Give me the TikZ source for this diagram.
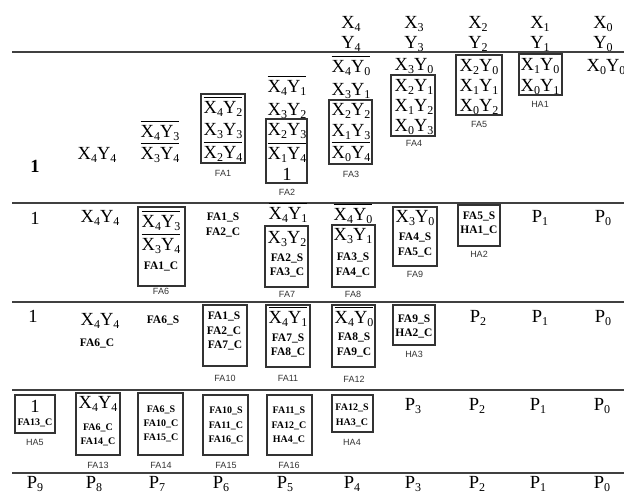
\documentclass[tikz,border=0pt]{standalone}
\usepackage{fontspec}
\setmainfont{Liberation Serif}
\setsansfont{Liberation Sans}
\usepackage{tikz}
\newcommand\idx[1]{\raisebox{-3.5pt}{\fontsize{12}{12}\selectfont #1}}
\newcommand\prd[2]{X\idx{#1}Y\idx{#2}}
\newcommand\ovl[1]{\vbox{\hrule height 0.8pt\kern 3.5pt\hbox{#1}}}
\newcommand\nprd[2]{\ovl{\prd{#1}{#2}}}
\tikzset{%
  term/.style={anchor=base,inner sep=0pt,font=\fontsize{18.5}{22}\selectfont},
  sig/.style={anchor=base,inner sep=0pt,font=\fontsize{11.5}{13}\selectfont\bfseries},
  sigsm/.style={sig,font=\fontsize{10}{12}\selectfont\bfseries},
  tag/.style={anchor=base,inner sep=0pt,text=black!80,
    font=\sffamily\fontsize{9}{10}\selectfont},
  unit/.style={draw=black!80,line width=1.3pt,inner sep=0pt},
  rowline/.style={line width=1.3pt,black!75}
}
\begin{document}
\begin{tikzpicture}[x=1pt,y=-1pt]
  \useasboundingbox (0,0) rectangle (624,496);

  % operand bits
  \node[term] (x4) at (351,28) {X\idx{4}}; \node[term] (y4) at (351,48) {Y\idx{4}};
  \node[term] (x3) at (414,28) {X\idx{3}}; \node[term] (y3) at (414,48) {Y\idx{3}};
  \node[term] (x2) at (478,28) {X\idx{2}}; \node[term] (y2) at (478,48) {Y\idx{2}};
  \node[term] (x1) at (540,28) {X\idx{1}}; \node[term] (y1) at (540,48) {Y\idx{1}};
  \node[term] (x0) at (603,28) {X\idx{0}}; \node[term] (y0) at (603,48) {Y\idx{0}};

  \draw[rowline] (12,52) -- (624,52);
  \draw[rowline] (12,203) -- (624,203);
  \draw[rowline] (12,302) -- (624,302);
  \draw[rowline] (12,390) -- (624,390);
  \draw[rowline] (12,473) -- (624,473);

  % stage 1: partial products
  \node[term, font=\fontsize{18.5}{22}\selectfont\bfseries] (a9) at (35,172) {1};
  \node[term] (a8) at (97,159) {\prd44};
  \node[term] (a7a) at (160,137) {\nprd43};
  \node[term] (a7b) at (160,159) {\nprd34};
  \node[unit, minimum width=44pt, minimum height=69pt] (fa1) at (223,128.5) {};
  \node[term] (a6a) at (223,113) {\nprd42};
  \node[term] (a6b) at (223,135) {\prd33};
  \node[term] (a6c) at (223,158) {\nprd24};
  \node[tag] (fa1t) at (223,176) {FA1};
  \node[term] (a5a) at (287,92) {\nprd41};
  \node[term] (a5b) at (287,115) {\prd32};
  \node[unit, minimum width=41pt, minimum height=64pt] (fa2) at (286.5,151) {};
  \node[term] (a5c) at (287,135) {\prd23};
  \node[term] (a5d) at (287,159) {\nprd14};
  \node[term] (a5e) at (287,180) {1};
  \node[tag] (fa2t) at (287,195) {FA2};
  \node[term] (a4a) at (351,72) {\nprd40};
  \node[term] (a4b) at (351,95) {\prd31};
  \node[unit, minimum width=43pt, minimum height=64pt] (fa3) at (350.5,132) {};
  \node[term] (a4c) at (351,115) {\prd22};
  \node[term] (a4d) at (351,136) {\prd13};
  \node[term] (a4e) at (351,158) {\nprd04};
  \node[tag] (fa3t) at (351,177) {FA3};
  \node[term] (a3a) at (414,70) {\prd30};
  \node[unit, minimum width=44pt, minimum height=61pt] (fa4) at (413,105.5) {};
  \node[term] (a3b) at (414,91) {\prd21};
  \node[term] (a3c) at (414,111) {\prd12};
  \node[term] (a3d) at (414,131) {\prd03};
  \node[tag] (fa4t) at (414,146) {FA4};
  \node[unit, minimum width=46pt, minimum height=60pt] (fa5) at (479,85) {};
  \node[term] (a2a) at (479,71) {\prd20};
  \node[term] (a2b) at (479,91) {\prd11};
  \node[term] (a2c) at (479,111) {\prd02};
  \node[tag] (fa5t) at (479,127) {FA5};
  \node[unit, minimum width=43pt, minimum height=41pt] (ha1) at (540.5,74.5) {};
  \node[term] (a1a) at (540,70) {\prd10};
  \node[term] (a1b) at (540,91) {\prd01};
  \node[tag] (ha1t) at (540,107) {HA1};
  \node[term] (a0) at (606,71) {\prd00};

  % stage 2
  \node[term] (b9) at (35,224) {1};
  \node[term] (b8) at (100,222) {\prd44};
  \node[unit, minimum width=47pt, minimum height=79pt] (fa6) at (161.5,246.5) {};
  \node[term] (b7a) at (161,227) {\nprd43};
  \node[term] (b7b) at (161,250) {\nprd34};
  \node[sig] (b7c) at (161,269) {FA1\_C};
  \node[tag] (fa6t) at (161,294) {FA6};
  \node[sig] (b6a) at (223,220) {FA1\_S};
  \node[sig] (b6b) at (223,235) {FA2\_C};
  \node[term] (b5a) at (288,219) {\nprd41};
  \node[unit, minimum width=43pt, minimum height=61pt] (fa7) at (286.5,256.5) {};
  \node[term] (b5b) at (287,243) {\prd32};
  \node[sig] (b5c) at (287,261) {FA2\_S};
  \node[sig] (b5d) at (287,275) {FA3\_C};
  \node[tag] (fa7t) at (287,297) {FA7};
  \node[term] (b4a) at (353,220) {\nprd40};
  \node[unit, minimum width=43pt, minimum height=62pt] (fa8) at (353.5,256) {};
  \node[term] (b4b) at (353,240) {\prd31};
  \node[sig] (b4c) at (353,260) {FA3\_S};
  \node[sig] (b4d) at (353,275) {FA4\_C};
  \node[tag] (fa8t) at (353,297) {FA8};
  \node[unit, minimum width=44pt, minimum height=59pt] (fa9) at (415,236.5) {};
  \node[term] (b3a) at (415,222) {\prd30};
  \node[sig] (b3b) at (415,240) {FA4\_S};
  \node[sig] (b3c) at (415,255) {FA5\_C};
  \node[tag] (fa9t) at (415,277) {FA9};
  \node[unit, minimum width=42pt, minimum height=41pt] (ha2) at (479,225.5) {};
  \node[sig] (b2a) at (479,219) {FA5\_S};
  \node[sig] (b2b) at (479,233) {HA1\_C};
  \node[tag] (ha2t) at (479,257) {HA2};
  \node[term] (b1) at (540,222) {P\idx{1}};
  \node[term] (b0) at (603,222) {P\idx{0}};

  % stage 3
  \node[term] (c9) at (33,322) {1};
  \node[term] (c8a) at (100,325) {\prd44};
  \node[sig] (c8b) at (97,346) {FA6\_C};
  \node[sig] (c7) at (163,323) {FA6\_S};
  \node[unit, minimum width=44pt, minimum height=61pt] (fa10) at (225,335.5) {};
  \node[sig] (c6a) at (224,319) {FA1\_S};
  \node[sig] (c6b) at (224,334) {FA2\_C};
  \node[sig] (c6c) at (225,348) {FA7\_C};
  \node[tag] (fa10t) at (225,381) {FA10};
  \node[unit, minimum width=44pt, minimum height=62pt] (fa11) at (288,336) {};
  \node[term] (c5a) at (288,323) {\nprd41};
  \node[sig] (c5b) at (288,341) {FA7\_S};
  \node[sig] (c5c) at (288,355) {FA8\_C};
  \node[tag] (fa11t) at (288,381) {FA11};
  \node[unit, minimum width=43pt, minimum height=62pt] (fa12) at (353.5,336) {};
  \node[term] (c4a) at (354,323) {\nprd40};
  \node[sig] (c4b) at (354,340) {FA8\_S};
  \node[sig] (c4c) at (354,355) {FA9\_C};
  \node[tag] (fa12t) at (354,382) {FA12};
  \node[unit, minimum width=42pt, minimum height=40pt] (ha3) at (414,325) {};
  \node[sig] (c3a) at (414,322) {FA9\_S};
  \node[sig] (c3b) at (414,336) {HA2\_C};
  \node[tag] (ha3t) at (414,357) {HA3};
  \node[term] (c2) at (478,322) {P\idx{2}};
  \node[term] (c1) at (540,322) {P\idx{1}};
  \node[term] (c0) at (603,322) {P\idx{0}};

  % stage 4
  \node[unit, minimum width=40pt, minimum height=38pt] (ha5) at (35,414) {};
  \node[term] (d9a) at (35,412) {1};
  \node[sigsm] (d9b) at (35,425) {FA13\_C};
  \node[tag] (ha5t) at (35,445) {HA5};
  \node[unit, minimum width=44pt, minimum height=62pt] (fa13) at (98,424) {};
  \node[term] (d8a) at (98,408) {\prd44};
  \node[sigsm] (d8b) at (98,430) {FA6\_C};
  \node[sigsm] (d8c) at (98,444) {FA14\_C};
  \node[tag] (fa13t) at (98,468) {FA13};
  \node[unit, minimum width=45pt, minimum height=62pt] (fa14) at (160.5,424) {};
  \node[sigsm] (d7a) at (161,412) {FA6\_S};
  \node[sigsm] (d7b) at (161,426) {FA10\_C};
  \node[sigsm] (d7c) at (161,440) {FA15\_C};
  \node[tag] (fa14t) at (161,468) {FA14};
  \node[unit, minimum width=45pt, minimum height=60pt] (fa15) at (225.5,425) {};
  \node[sigsm] (d6a) at (226,413) {FA10\_S};
  \node[sigsm] (d6b) at (226,428) {FA11\_C};
  \node[sigsm] (d6c) at (226,442) {FA16\_C};
  \node[tag] (fa15t) at (226,468) {FA15};
  \node[unit, minimum width=45pt, minimum height=60pt] (fa16) at (289.5,425) {};
  \node[sigsm] (d5a) at (289,413) {FA11\_S};
  \node[sigsm] (d5b) at (289,428) {FA12\_C};
  \node[sigsm] (d5c) at (289,442) {HA4\_C};
  \node[tag] (fa16t) at (289,468) {FA16};
  \node[unit, minimum width=41pt, minimum height=37pt] (ha4) at (352.5,413.5) {};
  \node[sigsm] (d4a) at (352,410) {FA12\_S};
  \node[sigsm] (d4b) at (352,425) {HA3\_C};
  \node[tag] (ha4t) at (352,445) {HA4};
  \node[term] (d3) at (413,410) {P\idx{3}};
  \node[term] (d2) at (477,410) {P\idx{2}};
  \node[term] (d1) at (538,410) {P\idx{1}};
  \node[term] (d0) at (602,410) {P\idx{0}};

  % product
  \node[term] (p9) at (35,488) {P\idx{9}};
  \node[term] (p8) at (94,488) {P\idx{8}};
  \node[term] (p7) at (157,488) {P\idx{7}};
  \node[term] (p6) at (221,488) {P\idx{6}};
  \node[term] (p5) at (285,488) {P\idx{5}};
  \node[term] (p4) at (352,488) {P\idx{4}};
  \node[term] (p3) at (413,488) {P\idx{3}};
  \node[term] (p2) at (477,488) {P\idx{2}};
  \node[term] (p1) at (538,488) {P\idx{1}};
  \node[term] (p0) at (602,488) {P\idx{0}};
\end{tikzpicture}
\end{document}
